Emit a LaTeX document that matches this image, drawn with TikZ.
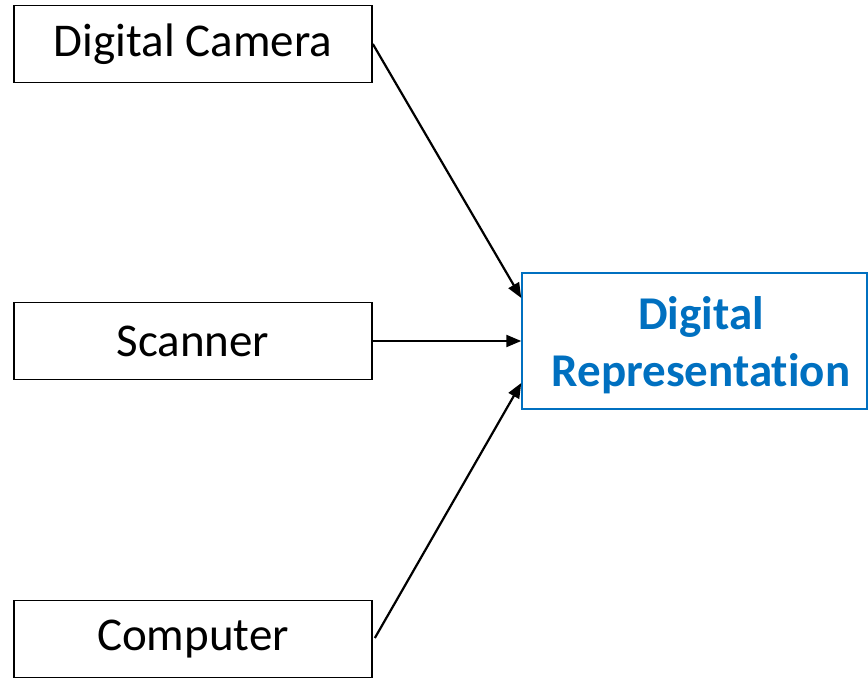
\documentclass[tikz,border=0pt]{standalone}
\usepackage{fontspec}
\setmainfont[Ligatures=NoCommon]{Carlito}
\usetikzlibrary{arrows.meta,calc}
\definecolor{officeblue}{HTML}{0070C0}
\tikzset{
  srcbox/.style={draw=black, line width=1.7pt, minimum width=358pt, minimum height=77pt,
    inner sep=0pt, font=\fontsize{47}{57}\selectfont},
  targetbox/.style={draw=officeblue, line width=1.5pt, minimum width=345pt, minimum height=136pt,
    inner sep=0pt},
  targettext/.style={inner sep=0pt, align=center, text=officeblue,
    font=\fontsize{47}{57}\selectfont\bfseries},
  feed/.style={line width=2.2pt, -{Triangle[length=15pt,width=12pt]}}
}
\begin{document}
\begin{tikzpicture}[x=1pt,y=-1pt]
  \useasboundingbox (0,0) rectangle (868,679);
  \node[srcbox] (camera) at (193,44) {Digital Camera};
  \node[srcbox] (scanner) at (193,341) {Scanner};
  \node[srcbox] (computer) at (193,639) {Computer};
  \node[targetbox] (digrep) at (694.5,341) {};
  \node[targettext] (digreplabel) at (701,345) {Digital\\Representation};
  \coordinate (inupper) at ([yshift=43pt]digrep.west);
  \coordinate (inlower) at ([yshift=-42pt]digrep.west);
  \draw[feed] (camera.east) -- (inupper);
  \draw[feed] (scanner.east) -- (digrep.west);
  \draw[feed] ([xshift=2pt,yshift=1pt]computer.east) -- (inlower);
\end{tikzpicture}
\end{document}
